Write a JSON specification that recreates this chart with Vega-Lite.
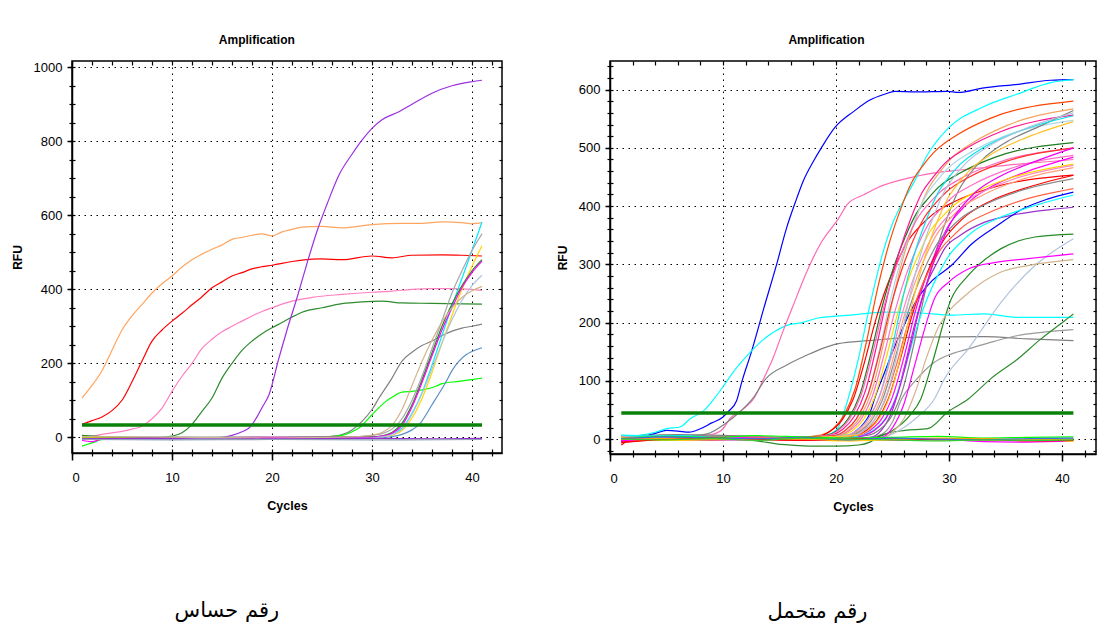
{
"$schema":"https://vega.github.io/schema/vega-lite/v6.json",
"background":"white",
"padding":{"left":10,"top":33,"right":0,"bottom":0},
"config":{"view":{"stroke":"#000","strokeWidth":1.5},"axis":{"labelFont":"Liberation Sans, Arial, sans-serif","titleFont":"Liberation Sans, Arial, sans-serif","tickColor":"#000","domainColor":"#000","labelColor":"#000","titleColor":"#000"},"title":{"color":"#000"}},
"datasets":{
"thrL":[{"c":1,"v":33},{"c":41,"v":33}],
"thrR":[{"c":1,"v":45},{"c":41,"v":45}],
"left":[
{"s":"L1","c":1,"v":106},{"s":"L1","c":2,"v":140},{"s":"L1","c":3,"v":180},{"s":"L1","c":4,"v":235},{"s":"L1","c":5,"v":290},{"s":"L1","c":6,"v":328},{"s":"L1","c":7,"v":359},{"s":"L1","c":8,"v":390},{"s":"L1","c":9,"v":415},{"s":"L1","c":10,"v":436},{"s":"L1","c":11,"v":460},{"s":"L1","c":12,"v":480},{"s":"L1","c":13,"v":495},{"s":"L1","c":14,"v":508},{"s":"L1","c":15,"v":520},{"s":"L1","c":16,"v":535},{"s":"L1","c":17,"v":540},{"s":"L1","c":18,"v":546},{"s":"L1","c":19,"v":550},{"s":"L1","c":20,"v":544},{"s":"L1","c":21,"v":555},{"s":"L1","c":22,"v":562},{"s":"L1","c":23,"v":568},{"s":"L1","c":25,"v":570},{"s":"L1","c":27,"v":566},{"s":"L1","c":30,"v":575},{"s":"L1","c":33,"v":578},{"s":"L1","c":35,"v":578},{"s":"L1","c":37,"v":582},{"s":"L1","c":39,"v":580},{"s":"L1","c":40,"v":577},{"s":"L1","c":41,"v":580},
{"s":"L2","c":1,"v":35},{"s":"L2","c":2,"v":45},{"s":"L2","c":3,"v":55},{"s":"L2","c":4,"v":72},{"s":"L2","c":5,"v":100},{"s":"L2","c":6,"v":150},{"s":"L2","c":7,"v":206},{"s":"L2","c":8,"v":260},{"s":"L2","c":9,"v":290},{"s":"L2","c":10,"v":314},{"s":"L2","c":11,"v":335},{"s":"L2","c":12,"v":358},{"s":"L2","c":13,"v":380},{"s":"L2","c":14,"v":404},{"s":"L2","c":15,"v":420},{"s":"L2","c":16,"v":436},{"s":"L2","c":17,"v":445},{"s":"L2","c":18,"v":455},{"s":"L2","c":19,"v":461},{"s":"L2","c":20,"v":465},{"s":"L2","c":22,"v":475},{"s":"L2","c":23,"v":479},{"s":"L2","c":25,"v":482},{"s":"L2","c":27,"v":480},{"s":"L2","c":30,"v":490},{"s":"L2","c":32,"v":485},{"s":"L2","c":34,"v":492},{"s":"L2","c":37,"v":493},{"s":"L2","c":39,"v":492},{"s":"L2","c":41,"v":490},
{"s":"L3","c":1,"v":2},{"s":"L3","c":2,"v":3},{"s":"L3","c":3,"v":8},{"s":"L3","c":4,"v":12},{"s":"L3","c":5,"v":16},{"s":"L3","c":6,"v":22},{"s":"L3","c":7,"v":30},{"s":"L3","c":8,"v":50},{"s":"L3","c":9,"v":79},{"s":"L3","c":10,"v":124},{"s":"L3","c":11,"v":165},{"s":"L3","c":12,"v":200},{"s":"L3","c":13,"v":240},{"s":"L3","c":14,"v":265},{"s":"L3","c":15,"v":285},{"s":"L3","c":16,"v":300},{"s":"L3","c":17,"v":314},{"s":"L3","c":18,"v":328},{"s":"L3","c":19,"v":340},{"s":"L3","c":20,"v":350},{"s":"L3","c":22,"v":368},{"s":"L3","c":24,"v":378},{"s":"L3","c":27,"v":386},{"s":"L3","c":30,"v":392},{"s":"L3","c":32,"v":395},{"s":"L3","c":34,"v":400},{"s":"L3","c":36,"v":402},{"s":"L3","c":38,"v":402},{"s":"L3","c":40,"v":400},{"s":"L3","c":41,"v":397},
{"s":"L4","c":1,"v":5},{"s":"L4","c":3,"v":2},{"s":"L4","c":5,"v":0},{"s":"L4","c":7,"v":-2},{"s":"L4","c":9,"v":0},{"s":"L4","c":10,"v":3},{"s":"L4","c":11,"v":12},{"s":"L4","c":12,"v":35},{"s":"L4","c":13,"v":70},{"s":"L4","c":14,"v":106},{"s":"L4","c":15,"v":160},{"s":"L4","c":16,"v":200},{"s":"L4","c":17,"v":235},{"s":"L4","c":18,"v":260},{"s":"L4","c":19,"v":280},{"s":"L4","c":20,"v":296},{"s":"L4","c":21,"v":310},{"s":"L4","c":22,"v":325},{"s":"L4","c":23,"v":338},{"s":"L4","c":25,"v":350},{"s":"L4","c":27,"v":361},{"s":"L4","c":29,"v":366},{"s":"L4","c":31,"v":368},{"s":"L4","c":33,"v":363},{"s":"L4","c":36,"v":362},{"s":"L4","c":41,"v":360},
{"s":"L5","c":1,"v":0},{"s":"L5","c":5,"v":-3},{"s":"L5","c":9,"v":-5},{"s":"L5","c":12,"v":-3},{"s":"L5","c":15,"v":0},{"s":"L5","c":16,"v":5},{"s":"L5","c":17,"v":15},{"s":"L5","c":17.7,"v":25},{"s":"L5","c":18.5,"v":55},{"s":"L5","c":19,"v":80},{"s":"L5","c":19.7,"v":115},{"s":"L5","c":20.7,"v":215},{"s":"L5","c":21.5,"v":290},{"s":"L5","c":22.5,"v":377},{"s":"L5","c":23.5,"v":470},{"s":"L5","c":24.5,"v":557},{"s":"L5","c":25.5,"v":630},{"s":"L5","c":26.7,"v":709},{"s":"L5","c":28,"v":765},{"s":"L5","c":29,"v":803},{"s":"L5","c":30,"v":835},{"s":"L5","c":31,"v":858},{"s":"L5","c":32.7,"v":880},{"s":"L5","c":34,"v":900},{"s":"L5","c":36,"v":930},{"s":"L5","c":38,"v":950},{"s":"L5","c":40,"v":961},{"s":"L5","c":41,"v":965},
{"s":"L6","c":1,"v":-2},{"s":"L6","c":10,"v":-3},{"s":"L6","c":20,"v":-2},{"s":"L6","c":25,"v":0},{"s":"L6","c":26,"v":3},{"s":"L6","c":27,"v":7},{"s":"L6","c":28,"v":20},{"s":"L6","c":29,"v":43},{"s":"L6","c":30,"v":75},{"s":"L6","c":30.7,"v":106},{"s":"L6","c":32,"v":160},{"s":"L6","c":33,"v":206},{"s":"L6","c":34,"v":230},{"s":"L6","c":35,"v":248},{"s":"L6","c":36,"v":260},{"s":"L6","c":37,"v":275},{"s":"L6","c":38,"v":287},{"s":"L6","c":39,"v":295},{"s":"L6","c":40,"v":300},{"s":"L6","c":41,"v":306},
{"s":"L7","c":1,"v":-24},{"s":"L7","c":2,"v":-15},{"s":"L7","c":3,"v":-6},{"s":"L7","c":4,"v":-4},{"s":"L7","c":6,"v":-2},{"s":"L7","c":10,"v":0},{"s":"L7","c":15,"v":-2},{"s":"L7","c":20,"v":-3},{"s":"L7","c":25,"v":0},{"s":"L7","c":27,"v":5},{"s":"L7","c":28,"v":15},{"s":"L7","c":28.7,"v":25},{"s":"L7","c":30,"v":61},{"s":"L7","c":31.4,"v":97},{"s":"L7","c":32,"v":108},{"s":"L7","c":33,"v":122},{"s":"L7","c":34,"v":124},{"s":"L7","c":35,"v":128},{"s":"L7","c":36.4,"v":138},{"s":"L7","c":37,"v":145},{"s":"L7","c":38.7,"v":151},{"s":"L7","c":40,"v":156},{"s":"L7","c":41,"v":160},
{"s":"L8","c":1,"v":-3},{"s":"L8","c":10,"v":-4},{"s":"L8","c":20,"v":-3},{"s":"L8","c":30,"v":-2},{"s":"L8","c":32,"v":2},{"s":"L8","c":33,"v":8},{"s":"L8","c":34,"v":20},{"s":"L8","c":34.7,"v":34},{"s":"L8","c":36,"v":88},{"s":"L8","c":37.4,"v":150},{"s":"L8","c":38,"v":180},{"s":"L8","c":39.4,"v":223},{"s":"L8","c":40,"v":232},{"s":"L8","c":41,"v":242},
{"s":"L9","c":1,"v":0},{"s":"L9","c":15,"v":-3},{"s":"L9","c":20,"v":-1},{"s":"L9","c":30,"v":0},{"s":"L9","c":31,"v":2},{"s":"L9","c":32,"v":8},{"s":"L9","c":33,"v":25},{"s":"L9","c":34,"v":65},{"s":"L9","c":35,"v":120},{"s":"L9","c":36,"v":195},{"s":"L9","c":37,"v":275},{"s":"L9","c":38,"v":355},{"s":"L9","c":39,"v":430},{"s":"L9","c":40,"v":505},{"s":"L9","c":41,"v":582},
{"s":"L10","c":1,"v":2},{"s":"L10","c":20,"v":0},{"s":"L10","c":29,"v":2},{"s":"L10","c":30,"v":5},{"s":"L10","c":31,"v":10},{"s":"L10","c":32,"v":22},{"s":"L10","c":33,"v":50},{"s":"L10","c":34,"v":100},{"s":"L10","c":35,"v":165},{"s":"L10","c":36,"v":240},{"s":"L10","c":37,"v":315},{"s":"L10","c":38,"v":390},{"s":"L10","c":39,"v":450},{"s":"L10","c":40,"v":505},{"s":"L10","c":41,"v":550},
{"s":"L11","c":1,"v":0},{"s":"L11","c":20,"v":-2},{"s":"L11","c":30,"v":0},{"s":"L11","c":31,"v":2},{"s":"L11","c":32,"v":6},{"s":"L11","c":33,"v":18},{"s":"L11","c":34,"v":52},{"s":"L11","c":35,"v":105},{"s":"L11","c":36,"v":175},{"s":"L11","c":37,"v":255},{"s":"L11","c":38,"v":330},{"s":"L11","c":39,"v":400},{"s":"L11","c":40,"v":462},{"s":"L11","c":41,"v":518},
{"s":"L12","c":1,"v":-3},{"s":"L12","c":20,"v":0},{"s":"L12","c":30,"v":1},{"s":"L12","c":31,"v":4},{"s":"L12","c":32,"v":13},{"s":"L12","c":33,"v":38},{"s":"L12","c":34,"v":88},{"s":"L12","c":35,"v":155},{"s":"L12","c":36,"v":228},{"s":"L12","c":37,"v":300},{"s":"L12","c":38,"v":360},{"s":"L12","c":39,"v":410},{"s":"L12","c":40,"v":450},{"s":"L12","c":41,"v":480},
{"s":"L13","c":1,"v":-8},{"s":"L13","c":2,"v":-12},{"s":"L13","c":3,"v":-5},{"s":"L13","c":10,"v":-2},{"s":"L13","c":20,"v":0},{"s":"L13","c":30,"v":0},{"s":"L13","c":31,"v":3},{"s":"L13","c":32,"v":11},{"s":"L13","c":33,"v":32},{"s":"L13","c":34,"v":82},{"s":"L13","c":35,"v":148},{"s":"L13","c":36,"v":220},{"s":"L13","c":37,"v":290},{"s":"L13","c":38,"v":350},{"s":"L13","c":39,"v":405},{"s":"L13","c":40,"v":445},{"s":"L13","c":41,"v":476},
{"s":"L14","c":1,"v":-5},{"s":"L14","c":20,"v":-4},{"s":"L14","c":30,"v":-2},{"s":"L14","c":31,"v":1},{"s":"L14","c":32,"v":7},{"s":"L14","c":33,"v":22},{"s":"L14","c":34,"v":62},{"s":"L14","c":35,"v":118},{"s":"L14","c":36,"v":185},{"s":"L14","c":37,"v":255},{"s":"L14","c":38,"v":318},{"s":"L14","c":39,"v":370},{"s":"L14","c":40,"v":410},{"s":"L14","c":41,"v":438},
{"s":"L15","c":1,"v":2},{"s":"L15","c":20,"v":-2},{"s":"L15","c":28,"v":1},{"s":"L15","c":29,"v":3},{"s":"L15","c":30,"v":6},{"s":"L15","c":31,"v":13},{"s":"L15","c":32,"v":32},{"s":"L15","c":33,"v":75},{"s":"L15","c":34,"v":140},{"s":"L15","c":35,"v":205},{"s":"L15","c":36,"v":262},{"s":"L15","c":37,"v":312},{"s":"L15","c":38,"v":350},{"s":"L15","c":39,"v":378},{"s":"L15","c":40,"v":396},{"s":"L15","c":41,"v":408},
{"s":"L16","c":1,"v":-4},{"s":"L16","c":8,"v":-3},{"s":"L16","c":15,"v":-5},{"s":"L16","c":22,"v":-4},{"s":"L16","c":30,"v":-3},{"s":"L16","c":36,"v":-4},{"s":"L16","c":41,"v":-3},
{"s":"L17","c":1,"v":-6},{"s":"L17","c":10,"v":-7},{"s":"L17","c":20,"v":-6},{"s":"L17","c":30,"v":-7},{"s":"L17","c":41,"v":-6}
],
"right":[
{"s":"R1","c":1,"v":-5},{"s":"R1","c":2,"v":3},{"s":"R1","c":3,"v":5},{"s":"R1","c":4,"v":10},{"s":"R1","c":5,"v":15},{"s":"R1","c":6,"v":14},{"s":"R1","c":7,"v":12},{"s":"R1","c":8,"v":18},{"s":"R1","c":9,"v":28},{"s":"R1","c":10,"v":38},{"s":"R1","c":10.5,"v":48},{"s":"R1","c":11.2,"v":66},{"s":"R1","c":11.7,"v":101},{"s":"R1","c":12.5,"v":149},{"s":"R1","c":13.6,"v":224},{"s":"R1","c":14.8,"v":304},{"s":"R1","c":15.6,"v":361},{"s":"R1","c":16.5,"v":412},{"s":"R1","c":17.1,"v":443},{"s":"R1","c":18,"v":477},{"s":"R1","c":18.7,"v":500},{"s":"R1","c":19.9,"v":535},{"s":"R1","c":21.6,"v":563},{"s":"R1","c":23,"v":582},{"s":"R1","c":24.3,"v":592},{"s":"R1","c":25.2,"v":597},{"s":"R1","c":27,"v":596},{"s":"R1","c":29.9,"v":597},{"s":"R1","c":30.8,"v":595},{"s":"R1","c":33.1,"v":603},{"s":"R1","c":36.1,"v":609},{"s":"R1","c":39,"v":616},{"s":"R1","c":41,"v":617},
{"s":"R2","c":1,"v":0},{"s":"R2","c":2,"v":5},{"s":"R2","c":3,"v":8},{"s":"R2","c":4,"v":12},{"s":"R2","c":5,"v":18},{"s":"R2","c":6.2,"v":21},{"s":"R2","c":7.1,"v":35},{"s":"R2","c":8.3,"v":49},{"s":"R2","c":9.2,"v":69},{"s":"R2","c":10.5,"v":104},{"s":"R2","c":10.9,"v":115},{"s":"R2","c":12.4,"v":149},{"s":"R2","c":13.5,"v":170},{"s":"R2","c":14.5,"v":184},{"s":"R2","c":15.6,"v":195},{"s":"R2","c":17,"v":200},{"s":"R2","c":18.4,"v":208},{"s":"R2","c":21.3,"v":213},{"s":"R2","c":24.3,"v":218},{"s":"R2","c":27.2,"v":217},{"s":"R2","c":30.2,"v":213},{"s":"R2","c":33.1,"v":215},{"s":"R2","c":36.1,"v":209},{"s":"R2","c":41,"v":209},
{"s":"R3","c":1,"v":5},{"s":"R3","c":3,"v":3},{"s":"R3","c":5,"v":2},{"s":"R3","c":7,"v":4},{"s":"R3","c":9,"v":8},{"s":"R3","c":10,"v":18},{"s":"R3","c":10.6,"v":35},{"s":"R3","c":11.8,"v":52},{"s":"R3","c":12.7,"v":69},{"s":"R3","c":13.6,"v":104},{"s":"R3","c":14.4,"v":138},{"s":"R3","c":15.3,"v":185},{"s":"R3","c":16.2,"v":229},{"s":"R3","c":17.4,"v":287},{"s":"R3","c":18.7,"v":338},{"s":"R3","c":20.2,"v":378},{"s":"R3","c":21,"v":403},{"s":"R3","c":22.5,"v":420},{"s":"R3","c":23.7,"v":432},{"s":"R3","c":26.6,"v":449},{"s":"R3","c":28.7,"v":457},{"s":"R3","c":31,"v":462},{"s":"R3","c":35,"v":470},{"s":"R3","c":41,"v":480},
{"s":"R4","c":1,"v":2},{"s":"R4","c":3,"v":0},{"s":"R4","c":5,"v":3},{"s":"R4","c":7,"v":5},{"s":"R4","c":8.6,"v":9},{"s":"R4","c":10,"v":24},{"s":"R4","c":11.5,"v":47},{"s":"R4","c":12.6,"v":69},{"s":"R4","c":13.8,"v":104},{"s":"R4","c":15.6,"v":127},{"s":"R4","c":17.4,"v":144},{"s":"R4","c":18.7,"v":155},{"s":"R4","c":20.2,"v":164},{"s":"R4","c":22.8,"v":169},{"s":"R4","c":27.2,"v":175},{"s":"R4","c":33.1,"v":176},{"s":"R4","c":37,"v":172},{"s":"R4","c":41,"v":169},
{"s":"R5","c":1,"v":0},{"s":"R5","c":10,"v":2},{"s":"R5","c":15,"v":0},{"s":"R5","c":20,"v":-2},{"s":"R5","c":22,"v":0},{"s":"R5","c":24,"v":8},{"s":"R5","c":25,"v":30},{"s":"R5","c":25.8,"v":69},{"s":"R5","c":27,"v":100},{"s":"R5","c":28.7,"v":132},{"s":"R5","c":30,"v":145},{"s":"R5","c":31.7,"v":155},{"s":"R5","c":34,"v":168},{"s":"R5","c":36.1,"v":178},{"s":"R5","c":38,"v":183},{"s":"R5","c":41,"v":188},
{"s":"R6","c":1,"v":3},{"s":"R6","c":5,"v":2},{"s":"R6","c":10,"v":0},{"s":"R6","c":13,"v":-3},{"s":"R6","c":14.7,"v":-8},{"s":"R6","c":16.8,"v":-11},{"s":"R6","c":18,"v":-12},{"s":"R6","c":20,"v":-12},{"s":"R6","c":22,"v":-10},{"s":"R6","c":23,"v":-5},{"s":"R6","c":24,"v":7},{"s":"R6","c":26.1,"v":15},{"s":"R6","c":28.1,"v":18},{"s":"R6","c":29.9,"v":47},{"s":"R6","c":31.7,"v":69},{"s":"R6","c":33.7,"v":104},{"s":"R6","c":36.1,"v":138},{"s":"R6","c":38,"v":170},{"s":"R6","c":40.2,"v":203},{"s":"R6","c":41,"v":215},
{"s":"R7","c":1,"v":0},{"s":"R7","c":10,"v":0},{"s":"R7","c":20,"v":-2},{"s":"R7","c":22,"v":0},{"s":"R7","c":24.3,"v":4},{"s":"R7","c":26,"v":20},{"s":"R7","c":27.2,"v":38},{"s":"R7","c":28.7,"v":69},{"s":"R7","c":29.6,"v":104},{"s":"R7","c":31.7,"v":155},{"s":"R7","c":34.6,"v":235},{"s":"R7","c":37.6,"v":298},{"s":"R7","c":41,"v":344},
{"s":"R8","c":1,"v":0},{"s":"R8","c":10,"v":2},{"s":"R8","c":20,"v":0},{"s":"R8","c":23,"v":2},{"s":"R8","c":25,"v":15},{"s":"R8","c":26.5,"v":40},{"s":"R8","c":27.5,"v":69},{"s":"R8","c":28.5,"v":130},{"s":"R8","c":30.2,"v":241},{"s":"R8","c":31.7,"v":281},{"s":"R8","c":34.6,"v":327},{"s":"R8","c":37.6,"v":347},{"s":"R8","c":41,"v":352},
{"s":"R9","c":1,"v":-2},{"s":"R9","c":10,"v":1},{"s":"R9","c":20,"v":0},{"s":"R9","c":24,"v":3},{"s":"R9","c":25,"v":20},{"s":"R9","c":26,"v":60},{"s":"R9","c":27,"v":130},{"s":"R9","c":28,"v":200},{"s":"R9","c":28.7,"v":241},{"s":"R9","c":30,"v":270},{"s":"R9","c":31.7,"v":292},{"s":"R9","c":34,"v":303},{"s":"R9","c":37,"v":310},{"s":"R9","c":41,"v":318},
{"s":"R10","c":1,"v":1},{"s":"R10","c":10,"v":-1},{"s":"R10","c":20,"v":0},{"s":"R10","c":24,"v":2},{"s":"R10","c":25,"v":12},{"s":"R10","c":26,"v":35},{"s":"R10","c":27,"v":80},{"s":"R10","c":28,"v":140},{"s":"R10","c":29,"v":190},{"s":"R10","c":30,"v":220},{"s":"R10","c":31.1,"v":241},{"s":"R10","c":33,"v":270},{"s":"R10","c":34.6,"v":287},{"s":"R10","c":37,"v":298},{"s":"R10","c":41,"v":308},
{"s":"R11","c":1,"v":-1},{"s":"R11","c":10,"v":0},{"s":"R11","c":20,"v":1},{"s":"R11","c":23,"v":3},{"s":"R11","c":24,"v":15},{"s":"R11","c":25,"v":50},{"s":"R11","c":26,"v":120},{"s":"R11","c":27,"v":200},{"s":"R11","c":28,"v":265},{"s":"R11","c":29,"v":305},{"s":"R11","c":29.6,"v":327},{"s":"R11","c":31,"v":350},{"s":"R11","c":33.1,"v":372},{"s":"R11","c":36,"v":386},{"s":"R11","c":39,"v":394},{"s":"R11","c":41,"v":398},
{"s":"R12","c":1,"v":2},{"s":"R12","c":10,"v":-1},{"s":"R12","c":20,"v":0},{"s":"R12","c":21,"v":5},{"s":"R12","c":22,"v":18},{"s":"R12","c":23,"v":45},{"s":"R12","c":23.4,"v":69},{"s":"R12","c":24.3,"v":115},{"s":"R12","c":25,"v":150},{"s":"R12","c":26,"v":195},{"s":"R12","c":27.2,"v":241},{"s":"R12","c":28.5,"v":272},{"s":"R12","c":30.2,"v":298},{"s":"R12","c":32,"v":335},{"s":"R12","c":34.3,"v":367},{"s":"R12","c":36.5,"v":395},{"s":"R12","c":38.7,"v":412},{"s":"R12","c":41,"v":424},
{"s":"R13","c":1,"v":5},{"s":"R13","c":5,"v":2},{"s":"R13","c":10,"v":3},{"s":"R13","c":15,"v":0},{"s":"R13","c":18,"v":3},{"s":"R13","c":19,"v":6},{"s":"R13","c":20,"v":15},{"s":"R13","c":21,"v":65},{"s":"R13","c":22,"v":140},{"s":"R13","c":23,"v":230},{"s":"R13","c":24,"v":310},{"s":"R13","c":25,"v":370},{"s":"R13","c":26,"v":410},{"s":"R13","c":27,"v":445},{"s":"R13","c":28,"v":485},{"s":"R13","c":30,"v":535},{"s":"R13","c":33,"v":570},{"s":"R13","c":36,"v":592},{"s":"R13","c":39,"v":612},{"s":"R13","c":41,"v":617},
{"s":"R14","c":1,"v":3},{"s":"R14","c":6,"v":-2},{"s":"R14","c":11,"v":4},{"s":"R14","c":16,"v":2},{"s":"R14","c":18.7,"v":7},{"s":"R14","c":19.7,"v":17},{"s":"R14","c":20.7,"v":41},{"s":"R14","c":21.7,"v":87},{"s":"R14","c":22.7,"v":168},{"s":"R14","c":23.7,"v":261},{"s":"R14","c":24.7,"v":336},{"s":"R14","c":25.7,"v":394},{"s":"R14","c":26.7,"v":441},{"s":"R14","c":27.7,"v":470},{"s":"R14","c":28.7,"v":493},{"s":"R14","c":30.7,"v":522},{"s":"R14","c":33.7,"v":551},{"s":"R14","c":41,"v":580},
{"s":"R15","c":1,"v":-10},{"s":"R15","c":2,"v":0},{"s":"R15","c":6,"v":2},{"s":"R15","c":11,"v":-1},{"s":"R15","c":16,"v":3},{"s":"R15","c":18.5,"v":5},{"s":"R15","c":19.5,"v":14},{"s":"R15","c":20.5,"v":32},{"s":"R15","c":21.5,"v":68},{"s":"R15","c":22.5,"v":131},{"s":"R15","c":23.5,"v":204},{"s":"R15","c":24.5,"v":263},{"s":"R15","c":25.5,"v":308},{"s":"R15","c":26.5,"v":344},{"s":"R15","c":27.5,"v":367},{"s":"R15","c":28.5,"v":385},{"s":"R15","c":30.5,"v":408},{"s":"R15","c":33.5,"v":430},{"s":"R15","c":41,"v":453},
{"s":"R16","c":1,"v":2},{"s":"R16","c":6,"v":5},{"s":"R16","c":11,"v":3},{"s":"R16","c":16,"v":0},{"s":"R16","c":19.1,"v":6},{"s":"R16","c":20.1,"v":15},{"s":"R16","c":21.1,"v":36},{"s":"R16","c":22.1,"v":76},{"s":"R16","c":23.1,"v":148},{"s":"R16","c":24.1,"v":229},{"s":"R16","c":25.1,"v":295},{"s":"R16","c":26.1,"v":346},{"s":"R16","c":27.1,"v":387},{"s":"R16","c":28.1,"v":412},{"s":"R16","c":29.1,"v":433},{"s":"R16","c":31.1,"v":458},{"s":"R16","c":34.1,"v":484},{"s":"R16","c":41,"v":509},
{"s":"R17","c":1,"v":0},{"s":"R17","c":6,"v":3},{"s":"R17","c":11,"v":-2},{"s":"R17","c":16,"v":1},{"s":"R17","c":20.2,"v":7},{"s":"R17","c":21.2,"v":17},{"s":"R17","c":22.2,"v":40},{"s":"R17","c":23.2,"v":85},{"s":"R17","c":24.2,"v":164},{"s":"R17","c":25.2,"v":255},{"s":"R17","c":26.2,"v":329},{"s":"R17","c":27.2,"v":386},{"s":"R17","c":28.2,"v":431},{"s":"R17","c":29.2,"v":459},{"s":"R17","c":30.2,"v":482},{"s":"R17","c":32.2,"v":510},{"s":"R17","c":35.2,"v":539},{"s":"R17","c":41,"v":567},
{"s":"R18","c":1,"v":4},{"s":"R18","c":6,"v":0},{"s":"R18","c":11,"v":2},{"s":"R18","c":16,"v":-1},{"s":"R18","c":19.6,"v":7},{"s":"R18","c":20.6,"v":17},{"s":"R18","c":21.6,"v":39},{"s":"R18","c":22.6,"v":83},{"s":"R18","c":23.6,"v":161},{"s":"R18","c":24.6,"v":250},{"s":"R18","c":25.6,"v":322},{"s":"R18","c":26.6,"v":378},{"s":"R18","c":27.6,"v":423},{"s":"R18","c":28.6,"v":450},{"s":"R18","c":29.6,"v":473},{"s":"R18","c":31.6,"v":500},{"s":"R18","c":34.6,"v":528},{"s":"R18","c":41,"v":556},
{"s":"R19","c":1,"v":-2},{"s":"R19","c":6,"v":2},{"s":"R19","c":11,"v":1},{"s":"R19","c":16,"v":3},{"s":"R19","c":19.9,"v":7},{"s":"R19","c":20.9,"v":16},{"s":"R19","c":21.9,"v":38},{"s":"R19","c":22.9,"v":82},{"s":"R19","c":23.9,"v":159},{"s":"R19","c":24.9,"v":246},{"s":"R19","c":25.9,"v":317},{"s":"R19","c":26.9,"v":372},{"s":"R19","c":27.9,"v":416},{"s":"R19","c":28.9,"v":443},{"s":"R19","c":29.9,"v":465},{"s":"R19","c":31.9,"v":492},{"s":"R19","c":34.9,"v":520},{"s":"R19","c":41,"v":547},
{"s":"R20","c":1,"v":5},{"s":"R20","c":6,"v":8},{"s":"R20","c":11,"v":6},{"s":"R20","c":16,"v":3},{"s":"R20","c":20,"v":2},{"s":"R20","c":22.9,"v":7},{"s":"R20","c":23.9,"v":17},{"s":"R20","c":24.9,"v":39},{"s":"R20","c":25.9,"v":85},{"s":"R20","c":26.9,"v":164},{"s":"R20","c":27.9,"v":254},{"s":"R20","c":28.9,"v":327},{"s":"R20","c":29.9,"v":384},{"s":"R20","c":30.9,"v":429},{"s":"R20","c":31.9,"v":457},{"s":"R20","c":32.9,"v":479},{"s":"R20","c":34.9,"v":508},{"s":"R20","c":37.9,"v":536},{"s":"R20","c":41,"v":564},
{"s":"R21","c":1,"v":6},{"s":"R21","c":6,"v":3},{"s":"R21","c":11,"v":5},{"s":"R21","c":16,"v":2},{"s":"R21","c":19.2,"v":6},{"s":"R21","c":20.2,"v":15},{"s":"R21","c":21.2,"v":35},{"s":"R21","c":22.2,"v":75},{"s":"R21","c":23.2,"v":145},{"s":"R21","c":24.2,"v":225},{"s":"R21","c":25.2,"v":289},{"s":"R21","c":26.2,"v":339},{"s":"R21","c":27.2,"v":379},{"s":"R21","c":28.2,"v":404},{"s":"R21","c":29.2,"v":424},{"s":"R21","c":31.2,"v":449},{"s":"R21","c":34.2,"v":474},{"s":"R21","c":41,"v":499},
{"s":"R22","c":1,"v":1},{"s":"R22","c":6,"v":-1},{"s":"R22","c":11,"v":2},{"s":"R22","c":16,"v":0},{"s":"R22","c":20.2,"v":6},{"s":"R22","c":21.2,"v":15},{"s":"R22","c":22.2,"v":34},{"s":"R22","c":23.2,"v":73},{"s":"R22","c":24.2,"v":141},{"s":"R22","c":25.2,"v":219},{"s":"R22","c":26.2,"v":282},{"s":"R22","c":27.2,"v":331},{"s":"R22","c":28.2,"v":370},{"s":"R22","c":29.2,"v":394},{"s":"R22","c":30.2,"v":414},{"s":"R22","c":32.2,"v":438},{"s":"R22","c":35.2,"v":463},{"s":"R22","c":41,"v":487},
{"s":"R23","c":1,"v":-3},{"s":"R23","c":6,"v":0},{"s":"R23","c":11,"v":-2},{"s":"R23","c":16,"v":1},{"s":"R23","c":20,"v":0},{"s":"R23","c":22,"v":6},{"s":"R23","c":23,"v":15},{"s":"R23","c":24,"v":34},{"s":"R23","c":25,"v":73},{"s":"R23","c":26,"v":140},{"s":"R23","c":27,"v":218},{"s":"R23","c":28,"v":281},{"s":"R23","c":29,"v":329},{"s":"R23","c":30,"v":368},{"s":"R23","c":31,"v":392},{"s":"R23","c":32,"v":411},{"s":"R23","c":34,"v":436},{"s":"R23","c":37,"v":460},{"s":"R23","c":41,"v":484},
{"s":"R24","c":1,"v":2},{"s":"R24","c":6,"v":-1},{"s":"R24","c":11,"v":1},{"s":"R24","c":16,"v":0},{"s":"R24","c":20.4,"v":6},{"s":"R24","c":21.4,"v":14},{"s":"R24","c":22.4,"v":33},{"s":"R24","c":23.4,"v":71},{"s":"R24","c":24.4,"v":137},{"s":"R24","c":25.4,"v":212},{"s":"R24","c":26.4,"v":274},{"s":"R24","c":27.4,"v":321},{"s":"R24","c":28.4,"v":359},{"s":"R24","c":29.4,"v":382},{"s":"R24","c":30.4,"v":401},{"s":"R24","c":32.4,"v":425},{"s":"R24","c":35.4,"v":448},{"s":"R24","c":41,"v":472},
{"s":"R25","c":1,"v":3},{"s":"R25","c":6,"v":1},{"s":"R25","c":11,"v":-1},{"s":"R25","c":16,"v":2},{"s":"R25","c":21,"v":6},{"s":"R25","c":22,"v":14},{"s":"R25","c":23,"v":33},{"s":"R25","c":24,"v":70},{"s":"R25","c":25,"v":135},{"s":"R25","c":26,"v":210},{"s":"R25","c":27,"v":270},{"s":"R25","c":28,"v":317},{"s":"R25","c":29,"v":354},{"s":"R25","c":30,"v":377},{"s":"R25","c":31,"v":396},{"s":"R25","c":33,"v":419},{"s":"R25","c":36,"v":443},{"s":"R25","c":41,"v":466},
{"s":"R26","c":1,"v":-4},{"s":"R26","c":6,"v":1},{"s":"R26","c":11,"v":3},{"s":"R26","c":16,"v":-2},{"s":"R26","c":21.6,"v":5},{"s":"R26","c":22.6,"v":14},{"s":"R26","c":23.6,"v":32},{"s":"R26","c":24.6,"v":68},{"s":"R26","c":25.6,"v":131},{"s":"R26","c":26.6,"v":204},{"s":"R26","c":27.6,"v":263},{"s":"R26","c":28.6,"v":308},{"s":"R26","c":29.6,"v":344},{"s":"R26","c":30.6,"v":367},{"s":"R26","c":31.6,"v":385},{"s":"R26","c":33.6,"v":408},{"s":"R26","c":36.6,"v":430},{"s":"R26","c":41,"v":453},
{"s":"R27","c":1,"v":0},{"s":"R27","c":6,"v":2},{"s":"R27","c":11,"v":4},{"s":"R27","c":16,"v":1},{"s":"R27","c":21.1,"v":5},{"s":"R27","c":22.1,"v":13},{"s":"R27","c":23.1,"v":31},{"s":"R27","c":24.1,"v":67},{"s":"R27","c":25.1,"v":130},{"s":"R27","c":26.1,"v":201},{"s":"R27","c":27.1,"v":259},{"s":"R27","c":28.1,"v":304},{"s":"R27","c":29.1,"v":340},{"s":"R27","c":30.1,"v":362},{"s":"R27","c":31.1,"v":380},{"s":"R27","c":33.1,"v":402},{"s":"R27","c":36.1,"v":425},{"s":"R27","c":41,"v":447},
{"s":"R28","c":1,"v":7},{"s":"R28","c":6,"v":4},{"s":"R28","c":11,"v":2},{"s":"R28","c":16,"v":0},{"s":"R28","c":22.1,"v":5},{"s":"R28","c":23.1,"v":13},{"s":"R28","c":24.1,"v":29},{"s":"R28","c":25.1,"v":63},{"s":"R28","c":26.1,"v":122},{"s":"R28","c":27.1,"v":189},{"s":"R28","c":28.1,"v":243},{"s":"R28","c":29.1,"v":285},{"s":"R28","c":30.1,"v":318},{"s":"R28","c":31.1,"v":339},{"s":"R28","c":32.1,"v":356},{"s":"R28","c":34.1,"v":377},{"s":"R28","c":37.1,"v":398},{"s":"R28","c":41,"v":419},
{"s":"R29","c":1,"v":3},{"s":"R29","c":6,"v":6},{"s":"R29","c":11,"v":1},{"s":"R29","c":16,"v":2},{"s":"R29","c":21,"v":7},{"s":"R29","c":22,"v":17},{"s":"R29","c":23,"v":39},{"s":"R29","c":24,"v":83},{"s":"R29","c":25,"v":161},{"s":"R29","c":26,"v":250},{"s":"R29","c":27,"v":322},{"s":"R29","c":28,"v":377},{"s":"R29","c":29,"v":422},{"s":"R29","c":30,"v":450},{"s":"R29","c":31,"v":472},{"s":"R29","c":33,"v":500},{"s":"R29","c":36,"v":527},{"s":"R29","c":41,"v":555},
{"s":"R30","c":1,"v":-6},{"s":"R30","c":6,"v":2},{"s":"R30","c":11,"v":0},{"s":"R30","c":16,"v":3},{"s":"R30","c":19.8,"v":6},{"s":"R30","c":20.8,"v":15},{"s":"R30","c":21.8,"v":35},{"s":"R30","c":22.8,"v":75},{"s":"R30","c":23.8,"v":145},{"s":"R30","c":24.8,"v":225},{"s":"R30","c":25.8,"v":290},{"s":"R30","c":26.8,"v":340},{"s":"R30","c":27.8,"v":380},{"s":"R30","c":28.8,"v":405},{"s":"R30","c":29.8,"v":425},{"s":"R30","c":31.8,"v":450},{"s":"R30","c":34.8,"v":475},{"s":"R30","c":41,"v":500},
{"s":"R31","c":1,"v":2},{"s":"R31","c":6,"v":0},{"s":"R31","c":11,"v":3},{"s":"R31","c":16,"v":1},{"s":"R31","c":20.8,"v":6},{"s":"R31","c":21.8,"v":14},{"s":"R31","c":22.8,"v":33},{"s":"R31","c":23.8,"v":71},{"s":"R31","c":24.8,"v":136},{"s":"R31","c":25.8,"v":212},{"s":"R31","c":26.8,"v":273},{"s":"R31","c":27.8,"v":320},{"s":"R31","c":28.8,"v":357},{"s":"R31","c":29.8,"v":381},{"s":"R31","c":30.8,"v":400},{"s":"R31","c":32.8,"v":423},{"s":"R31","c":35.8,"v":447},{"s":"R31","c":41,"v":470},
{"s":"R32","c":1,"v":1},{"s":"R32","c":6,"v":3},{"s":"R32","c":11,"v":0},{"s":"R32","c":16,"v":-1},{"s":"R32","c":21.3,"v":5},{"s":"R32","c":22.3,"v":13},{"s":"R32","c":23.3,"v":30},{"s":"R32","c":24.3,"v":65},{"s":"R32","c":25.3,"v":125},{"s":"R32","c":26.3,"v":194},{"s":"R32","c":27.3,"v":249},{"s":"R32","c":28.3,"v":292},{"s":"R32","c":29.3,"v":327},{"s":"R32","c":30.3,"v":348},{"s":"R32","c":31.3,"v":366},{"s":"R32","c":33.3,"v":387},{"s":"R32","c":36.3,"v":409},{"s":"R32","c":41,"v":430},
{"s":"R33","c":1,"v":-1},{"s":"R33","c":6,"v":1},{"s":"R33","c":11,"v":2},{"s":"R33","c":16,"v":0},{"s":"R33","c":20,"v":-1},{"s":"R33","c":22.4,"v":6},{"s":"R33","c":23.4,"v":15},{"s":"R33","c":24.4,"v":35},{"s":"R33","c":25.4,"v":75},{"s":"R33","c":26.4,"v":145},{"s":"R33","c":27.4,"v":225},{"s":"R33","c":28.4,"v":290},{"s":"R33","c":29.4,"v":340},{"s":"R33","c":30.4,"v":380},{"s":"R33","c":31.4,"v":405},{"s":"R33","c":32.4,"v":425},{"s":"R33","c":34.4,"v":450},{"s":"R33","c":37.4,"v":475},{"s":"R33","c":41,"v":500},
{"s":"R34","c":1,"v":4},{"s":"R34","c":6,"v":2},{"s":"R34","c":11,"v":-1},{"s":"R34","c":16,"v":1},{"s":"R34","c":21.6,"v":7},{"s":"R34","c":22.6,"v":17},{"s":"R34","c":23.6,"v":39},{"s":"R34","c":24.6,"v":84},{"s":"R34","c":25.6,"v":162},{"s":"R34","c":26.6,"v":252},{"s":"R34","c":27.6,"v":325},{"s":"R34","c":28.6,"v":381},{"s":"R34","c":29.6,"v":426},{"s":"R34","c":30.6,"v":454},{"s":"R34","c":31.6,"v":476},{"s":"R34","c":33.6,"v":504},{"s":"R34","c":36.6,"v":532},{"s":"R34","c":41,"v":560},
{"s":"R35","c":1,"v":0},{"s":"R35","c":6,"v":-2},{"s":"R35","c":11,"v":1},{"s":"R35","c":16,"v":2},{"s":"R35","c":21.9,"v":7},{"s":"R35","c":22.9,"v":16},{"s":"R35","c":23.9,"v":38},{"s":"R35","c":24.9,"v":82},{"s":"R35","c":25.9,"v":158},{"s":"R35","c":26.9,"v":245},{"s":"R35","c":27.9,"v":316},{"s":"R35","c":28.9,"v":371},{"s":"R35","c":29.9,"v":414},{"s":"R35","c":30.9,"v":441},{"s":"R35","c":31.9,"v":463},{"s":"R35","c":33.9,"v":491},{"s":"R35","c":36.9,"v":518},{"s":"R35","c":41,"v":545},
{"s":"R36","c":1,"v":-3},{"s":"R36","c":5,"v":2},{"s":"R36","c":9,"v":0},{"s":"R36","c":13,"v":3},{"s":"R36","c":17,"v":-1},{"s":"R36","c":21,"v":1},{"s":"R36","c":25,"v":-2},{"s":"R36","c":29,"v":0},{"s":"R36","c":33,"v":-4},{"s":"R36","c":37,"v":-5},{"s":"R36","c":41,"v":-3},
{"s":"R37","c":1,"v":2},{"s":"R37","c":5,"v":5},{"s":"R37","c":9,"v":3},{"s":"R37","c":13,"v":6},{"s":"R37","c":17,"v":4},{"s":"R37","c":21,"v":2},{"s":"R37","c":25,"v":3},{"s":"R37","c":29,"v":5},{"s":"R37","c":33,"v":2},{"s":"R37","c":37,"v":3},{"s":"R37","c":41,"v":4},
{"s":"R38","c":1,"v":0},{"s":"R38","c":5,"v":-2},{"s":"R38","c":9,"v":1},{"s":"R38","c":13,"v":-1},{"s":"R38","c":17,"v":0},{"s":"R38","c":21,"v":-3},{"s":"R38","c":25,"v":-1},{"s":"R38","c":29,"v":1},{"s":"R38","c":33,"v":-2},{"s":"R38","c":37,"v":0},{"s":"R38","c":41,"v":-4},
{"s":"R39","c":1,"v":-6},{"s":"R39","c":5,"v":0},{"s":"R39","c":9,"v":2},{"s":"R39","c":13,"v":0},{"s":"R39","c":17,"v":-2},{"s":"R39","c":21,"v":0},{"s":"R39","c":25,"v":1},{"s":"R39","c":29,"v":-1},{"s":"R39","c":33,"v":0},{"s":"R39","c":37,"v":-3},{"s":"R39","c":41,"v":-2},
{"s":"R40","c":1,"v":3},{"s":"R40","c":5,"v":1},{"s":"R40","c":9,"v":-1},{"s":"R40","c":13,"v":2},{"s":"R40","c":17,"v":1},{"s":"R40","c":21,"v":-1},{"s":"R40","c":25,"v":0},{"s":"R40","c":29,"v":2},{"s":"R40","c":33,"v":1},{"s":"R40","c":37,"v":-1},{"s":"R40","c":41,"v":0},
{"s":"R41","c":1,"v":1},{"s":"R41","c":5,"v":4},{"s":"R41","c":9,"v":2},{"s":"R41","c":13,"v":1},{"s":"R41","c":17,"v":3},{"s":"R41","c":21,"v":-1},{"s":"R41","c":25,"v":2},{"s":"R41","c":29,"v":0},{"s":"R41","c":33,"v":-1},{"s":"R41","c":37,"v":1},{"s":"R41","c":41,"v":2},
{"s":"R42","c":1,"v":0},{"s":"R42","c":5,"v":-1},{"s":"R42","c":9,"v":1},{"s":"R42","c":13,"v":-2},{"s":"R42","c":17,"v":2},{"s":"R42","c":21,"v":0},{"s":"R42","c":25,"v":-1},{"s":"R42","c":29,"v":-3},{"s":"R42","c":33,"v":-1},{"s":"R42","c":37,"v":-2},{"s":"R42","c":41,"v":-1}
]
},
"spacing":51,
"resolve":{"scale":{"color":"independent"}},
"hconcat":[
{"title":{"text":"رقم حساس","orient":"bottom","anchor":"middle","dx":-30,"offset":88,"fontSize":21,"fontWeight":"normal","font":"DejaVu Sans","color":"#000"},
"vconcat":[{
"width":430,"height":392,
"title":{"text":"Amplification","frame":"bounds","anchor":"middle","fontSize":12,"fontWeight":"bold","font":"Liberation Sans, Arial, sans-serif","offset":13,"color":"#000"},
"resolve":{"axis":{"x":"independent","y":"independent"}},
"layer":[
{"data":{"name":"left"},"mark":{"type":"line","strokeWidth":1.2,"interpolate":"monotone","clip":true},
"encoding":{
"x":{"field":"c","type":"quantitative","scale":{"domain":[0,43],"nice":false,"zero":false},"axis":{"orient":"bottom","values":[0,10,20,30,40],"format":"d","title":"Cycles","grid":true,"gridColor":"#000","gridDash":[1.5,4.5],"gridWidth":1,"gridOpacity":1,"domain":true,"domainWidth":1.5,"tickSize":7,"tickWidth":1.5,"labelFontSize":13,"labelPadding":11,"titleFontSize":12.5,"titleFontWeight":"bold","titlePadding":15}},
"y":{"field":"v","type":"quantitative","scale":{"domain":[-42.5,1017],"nice":false,"zero":false},"axis":{"orient":"left","values":[0,200,400,600,800,1000],"format":"d","title":"RFU","grid":true,"gridColor":"#000","gridDash":[1.5,4.5],"gridWidth":1,"gridOpacity":1,"domain":true,"domainWidth":1.5,"tickSize":5,"tickWidth":1.5,"labelFontSize":13,"labelPadding":5,"titleFontSize":12,"titleFontWeight":"bold","titlePadding":9}},
"color":{"field":"s","type":"nominal","legend":null,"scale":{"domain":["L1","L2","L3","L4","L5","L6","L7","L8","L9","L10","L11","L12","L13","L14","L15","L16","L17"],"range":["#FFA560","#FF0000","#FF80C0","#2E8B2E","#9B30E0","#808080","#00FF00","#5A8FC8","#00E8FF","#A8A8A8","#FFD700","#228B22","#FF00FF","#B0C4DE","#D2B48C","#9932CC","#8FA0B8"]}}
}},
{"data":{"name":"thrL"},"mark":{"type":"line","color":"#0A820A","strokeWidth":3.5},
"encoding":{
"x":{"field":"c","type":"quantitative","scale":{"domain":[0,43],"nice":false,"zero":false},"axis":{"orient":"bottom","values":[0,2,4,6,8,10,12,14,16,18,20,22,24,26,28,30,32,34,36,38,40,42],"labels":false,"grid":false,"domain":false,"title":null,"tickSize":3,"tickWidth":1.2}},
"y":{"field":"v","type":"quantitative","scale":{"domain":[-42.5,1017],"nice":false,"zero":false},"axis":{"orient":"left","values":[0,50,100,150,200,250,300,350,400,450,500,550,600,650,700,750,800,850,900,950,1000],"labels":false,"grid":false,"domain":false,"title":null,"tickSize":3,"tickWidth":1.2}}
}},
{"data":{"name":"thrL"},"mark":{"type":"point","opacity":0},
"encoding":{
"x":{"field":"c","type":"quantitative","scale":{"domain":[0,43],"nice":false,"zero":false},"axis":{"orient":"bottom","values":[0,2,4,6,8,10,12,14,16,18,20,22,24,26,28,30,32,34,36,38,40,42],"labels":false,"grid":false,"domain":false,"title":null,"tickSize":-4,"tickWidth":1.2}},
"y":{"field":"v","type":"quantitative","scale":{"domain":[-42.5,1017],"nice":false,"zero":false},"axis":{"orient":"left","values":[0,50,100,150,200,250,300,350,400,450,500,550,600,650,700,750,800,850,900,950,1000],"labels":false,"grid":false,"domain":false,"title":null,"tickSize":-3,"tickWidth":1.2}}
}},
{"data":{"name":"thrL"},"mark":{"type":"point","opacity":0},
"encoding":{
"x":{"field":"c","type":"quantitative","scale":{"domain":[0,43],"nice":false,"zero":false},"axis":{"orient":"top","values":[0,2,4,6,8,10,12,14,16,18,20,22,24,26,28,30,32,34,36,38,40,42],"labels":false,"grid":false,"domain":false,"title":null,"tickSize":-4,"tickWidth":1.2}},
"y":{"field":"v","type":"quantitative","scale":{"domain":[-42.5,1017],"nice":false,"zero":false},"axis":{"orient":"right","values":[0,50,100,150,200,250,300,350,400,450,500,550,600,650,700,750,800,850,900,950,1000],"labels":false,"grid":false,"domain":false,"title":null,"tickSize":-3,"tickWidth":1.2}}
}}
]}]},
{"title":{"text":"رقم متحمل","orient":"bottom","anchor":"middle","dx":-9,"offset":88,"fontSize":21,"fontWeight":"normal","font":"DejaVu Sans","color":"#000"},
"vconcat":[{
"width":486,"height":393,
"title":{"text":"Amplification","frame":"bounds","anchor":"middle","fontSize":12,"fontWeight":"bold","font":"Liberation Sans, Arial, sans-serif","offset":13,"color":"#000"},
"resolve":{"axis":{"x":"independent","y":"independent"}},
"layer":[
{"data":{"name":"right"},"mark":{"type":"line","strokeWidth":1.2,"interpolate":"monotone","clip":true},
"encoding":{
"x":{"field":"c","type":"quantitative","scale":{"domain":[0,43],"nice":false,"zero":false},"axis":{"orient":"bottom","values":[0,10,20,30,40],"format":"d","title":"Cycles","grid":true,"gridColor":"#000","gridDash":[1.5,4.5],"gridWidth":1,"gridOpacity":1,"domain":true,"domainWidth":1.5,"tickSize":7,"tickWidth":1.5,"labelFontSize":13,"labelPadding":11,"titleFontSize":12.5,"titleFontWeight":"bold","titlePadding":15}},
"y":{"field":"v","type":"quantitative","scale":{"domain":[-25.4,649],"nice":false,"zero":false},"axis":{"orient":"left","values":[0,100,200,300,400,500,600],"format":"d","title":"RFU","grid":true,"gridColor":"#000","gridDash":[1.5,4.5],"gridWidth":1,"gridOpacity":1,"domain":true,"domainWidth":1.5,"tickSize":5,"tickWidth":1.5,"labelFontSize":13,"labelPadding":5,"titleFontSize":12,"titleFontWeight":"bold","titlePadding":9}},
"color":{"field":"s","type":"nominal","legend":null,"scale":{"domain":["R1","R2","R3","R4","R5","R6","R7","R8","R9","R10","R11","R12","R13","R14","R15","R16","R17","R18","R19","R20","R21","R22","R23","R24","R25","R26","R27","R28","R29","R30","R31","R32","R33","R34","R35","R36","R37","R38","R39","R40","R41","R42"],"range":["#0000FF","#00FFFF","#FF69B4","#808080","#999999","#2E8B2E","#B0C4DE","#228B22","#FF00FF","#D2B48C","#9932CC","#0000FF","#00FFFF","#FF4500","#FF0000","#1E7B1E","#F4A460","#FF1493","#ADD8E6","#808080","#FF69B4","#FF6EC7","#FF00FF","#FFD700","#FFA07A","#FF0000","#8C8C8C","#00FFFF","#00E5EE","#FF3030","#FF85C2","#FF6347","#EE00EE","#B0C4DE","#FFC125","#FF00FF","#00FF00","#FFD700","#FF0000","#FFA500","#4169E1","#32CD32"]}}
}},
{"data":{"name":"thrR"},"mark":{"type":"line","color":"#0A820A","strokeWidth":3.5},
"encoding":{
"x":{"field":"c","type":"quantitative","scale":{"domain":[0,43],"nice":false,"zero":false},"axis":{"orient":"bottom","values":[0,2,4,6,8,10,12,14,16,18,20,22,24,26,28,30,32,34,36,38,40,42],"labels":false,"grid":false,"domain":false,"title":null,"tickSize":3,"tickWidth":1.2}},
"y":{"field":"v","type":"quantitative","scale":{"domain":[-25.4,649],"nice":false,"zero":false},"axis":{"orient":"left","values":[-20,0,20,40,60,80,100,120,140,160,180,200,220,240,260,280,300,320,340,360,380,400,420,440,460,480,500,520,540,560,580,600,620,640],"labels":false,"grid":false,"domain":false,"title":null,"tickSize":3,"tickWidth":1.2}}
}},
{"data":{"name":"thrR"},"mark":{"type":"point","opacity":0},
"encoding":{
"x":{"field":"c","type":"quantitative","scale":{"domain":[0,43],"nice":false,"zero":false},"axis":{"orient":"bottom","values":[0,2,4,6,8,10,12,14,16,18,20,22,24,26,28,30,32,34,36,38,40,42],"labels":false,"grid":false,"domain":false,"title":null,"tickSize":-4,"tickWidth":1.2}},
"y":{"field":"v","type":"quantitative","scale":{"domain":[-25.4,649],"nice":false,"zero":false},"axis":{"orient":"left","values":[-20,0,20,40,60,80,100,120,140,160,180,200,220,240,260,280,300,320,340,360,380,400,420,440,460,480,500,520,540,560,580,600,620,640],"labels":false,"grid":false,"domain":false,"title":null,"tickSize":-3,"tickWidth":1.2}}
}},
{"data":{"name":"thrR"},"mark":{"type":"point","opacity":0},
"encoding":{
"x":{"field":"c","type":"quantitative","scale":{"domain":[0,43],"nice":false,"zero":false},"axis":{"orient":"top","values":[0,2,4,6,8,10,12,14,16,18,20,22,24,26,28,30,32,34,36,38,40,42],"labels":false,"grid":false,"domain":false,"title":null,"tickSize":-4,"tickWidth":1.2}},
"y":{"field":"v","type":"quantitative","scale":{"domain":[-25.4,649],"nice":false,"zero":false},"axis":{"orient":"right","values":[-20,0,20,40,60,80,100,120,140,160,180,200,220,240,260,280,300,320,340,360,380,400,420,440,460,480,500,520,540,560,580,600,620,640],"labels":false,"grid":false,"domain":false,"title":null,"tickSize":-3,"tickWidth":1.2}}
}}
]}]}
]
}
